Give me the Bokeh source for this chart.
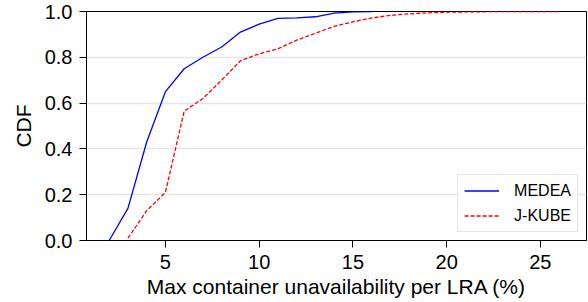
from bokeh.plotting import figure
from bokeh.models import FixedTicker, PrintfTickFormatter, Range1d, Legend, LegendItem
from bokeh.embed import file_html
from bokeh.resources import INLINE

# Data
medea_x = [2, 3, 4, 5, 6, 7, 8, 9, 10, 11, 12, 13, 14, 15, 16]
medea_cdf = [0.0, 0.14, 0.43, 0.65, 0.75, 0.80, 0.845, 0.91, 0.945, 0.97, 0.972, 0.977, 0.993, 0.998, 1.0]

jkube_x = [3, 4, 5, 6, 7, 8, 9, 10, 11, 12, 13, 14, 15, 16, 17, 18, 19, 20, 21, 22, 23, 24, 25, 26]
jkube_cdf = [0.01, 0.13, 0.21, 0.565, 0.62, 0.70, 0.785, 0.815, 0.837, 0.875, 0.905, 0.935,
             0.955, 0.972, 0.983, 0.99, 0.994, 0.997, 0.998, 0.999, 1.0, 1.0, 1.0, 1.0]

x_ticks = [5, 10, 15, 20, 25]
y_ticks = [0.0, 0.2, 0.4, 0.6, 0.8, 1.0]

FONT = "Liberation Sans"

p = figure(width=588, height=300, output_backend="svg", toolbar_location=None,
           x_range=Range1d(0.79, 27.46), y_range=Range1d(0.0, 1.0),
           min_border_left=86, min_border_right=2, min_border_top=11, min_border_bottom=60)

p.outline_line_color = "black"
p.outline_line_width = 1
p.background_fill_color = "white"
p.border_fill_color = "white"

p.xgrid.visible = False
p.ygrid.grid_line_color = "#e5e5e5"
p.ygrid.grid_line_width = 1.3

# axes
p.xaxis.ticker = FixedTicker(ticks=x_ticks)
p.yaxis.ticker = FixedTicker(ticks=y_ticks)
p.yaxis.formatter = PrintfTickFormatter(format="%.1f")
for ax in (p.xaxis[0], p.yaxis[0]):
    ax.axis_line_color = "black"
    ax.axis_line_width = 1
    ax.major_tick_line_color = "black"
    ax.major_tick_out = 7
    ax.major_tick_in = 0
    ax.minor_tick_out = 0
    ax.minor_tick_in = 0
    ax.major_label_text_font = FONT
    ax.major_label_text_font_size = "20px"
    ax.major_label_text_color = "black"
    ax.axis_label_text_font = FONT
    ax.axis_label_text_font_size = "21px"
    ax.axis_label_text_font_style = "normal"
    ax.axis_label_text_color = "black"

p.xaxis.major_label_standoff = 7
p.yaxis.major_label_standoff = 7
p.xaxis.axis_label = "Max container unavailability per LRA (%)"
p.yaxis.axis_label = "CDF"
p.xaxis.axis_label_standoff = 3
p.yaxis.axis_label_standoff = 7

r1 = p.line(medea_x, medea_cdf, line_color="#0000ff", line_width=1.3)
r2 = p.line(jkube_x, jkube_cdf, line_color="#ff0000", line_width=1.3, line_dash="4 2")

legend = Legend(items=[LegendItem(label="MEDEA", renderers=[r1]),
                       LegendItem(label="J-KUBE", renderers=[r2])],
                location="bottom_right")
legend.label_text_font = FONT
legend.label_text_font_size = "16px"
legend.label_text_color = "black"
legend.glyph_width = 35
legend.glyph_height = 19
legend.label_height = 19
legend.label_standoff = 15
legend.spacing = 6
legend.padding = 6
legend.margin = 8
legend.border_line_color = "#cccccc"
legend.border_line_width = 1
legend.background_fill_alpha = 0.95
p.add_layout(legend, "center")

open("out.html", "w").write(file_html(p, INLINE))
